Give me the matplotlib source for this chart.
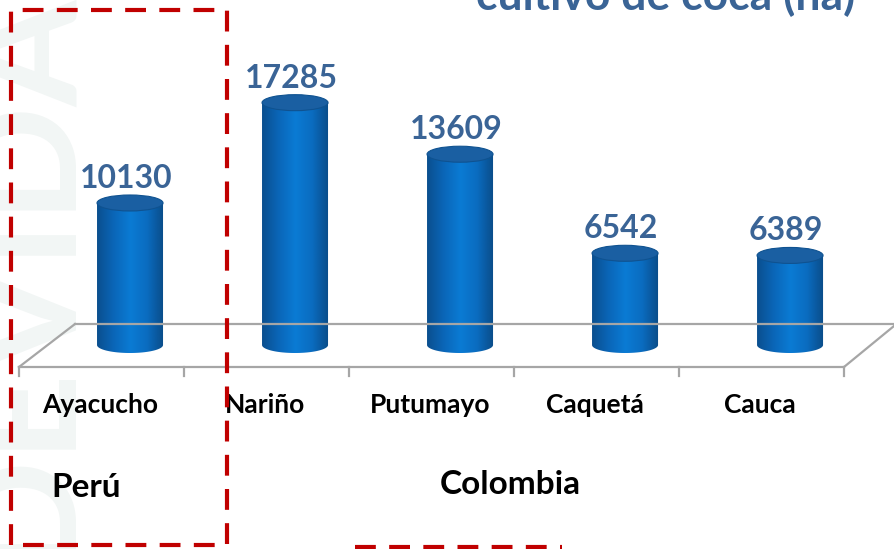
import numpy as np
import matplotlib.pyplot as plt
from matplotlib.patches import Ellipse, PathPatch
from matplotlib.path import Path
from matplotlib.colors import LinearSegmentedColormap
from matplotlib.lines import Line2D
import matplotlib.transforms as mtransforms

plt.rcParams['font.family'] = ['Lato', 'DejaVu Sans']

regiones = ['Ayacucho', 'Nariño', 'Putumayo', 'Caquetá', 'Cauca']
hectareas = [10130, 17285, 13609, 6542, 6389]
paises = ['Perú', 'Colombia']
titulo = 'cultivo de coca (ha)'

W, H = 894, 549
fig = plt.figure(figsize=(W / 100, H / 100), dpi=100)
ax = fig.add_axes([0, 0, 1, 1])
ax.set_xlim(-0.788, 4.630)
ax.set_ylim(-14551, 24609)
ax.axis('off')

azul = '#3A6496'
px_y = H / (24609 + 14551)   # pixels per hectare
bw = 0.40                   # bar width (category units)
eh = 16 / px_y              # ellipse height (data units)


def fp(x, y):
    # pixel (from top-left) -> figure fraction
    return x / W, 1 - y / H


# faint watermark on the left, behind everything
fig.text(*fp(20, 275), 'DEVIDA', rotation=90, ha='center', va='center',
         fontsize=110, fontweight='bold', color='#F2F6F5', zorder=-5)

# floor of the 3d chart
gris = '#A6A6A6'
for (x1, y1), (x2, y2) in [((75, 324), (894, 324)), ((19, 367), (75, 324)),
                           ((19, 367), (844, 367)), ((844, 367), (894, 326))]:
    (a, b), (c, d) = fp(x1, y1), fp(x2, y2)
    fig.add_artist(Line2D([a, c], [b, d], color=gris, lw=1.6, zorder=1))
for k in range(len(regiones) + 1):
    a, b = fp(19 + 165 * k, 367)
    _, d = fp(0, 376)
    fig.add_artist(Line2D([a, a], [b, d], color=gris, lw=1.6, zorder=1))

# cylinders
cmap = LinearSegmentedColormap.from_list('cil', ['#0B4F8F', '#0A66B8', '#0B7BD4',
                                                 '#0A6CC0', '#0A4C88'])
grad = np.linspace(0, 1, 200).reshape(1, -1)
t = np.linspace(np.pi, 2 * np.pi, 60)
for i, v in enumerate(hectareas):
    l, r = i - bw / 2, i + bw / 2
    pts = [(l, v), (l, 0)]
    pts += list(zip(i + bw / 2 * np.cos(t), eh / 2 * np.sin(t)))
    pts += [(r, v), (l, v)]
    body = PathPatch(Path(pts, closed=True), facecolor='none', edgecolor='none',
                     transform=ax.transData)
    ax.add_patch(body)
    im = ax.imshow(grad, extent=(l, r, -eh, v), cmap=cmap, aspect='auto',
                   zorder=3, interpolation='bilinear')
    im.set_clip_path(body)
    ax.add_patch(Ellipse((i, v), bw, eh, facecolor='#1A5FA2', edgecolor='#0F5290',
                         lw=0.8, zorder=4))
    ax.annotate(f'{v}', xy=(i, v + eh / 2), xytext=(-4, 7), textcoords='offset pixels',
                ha='center', va='baseline', color=azul, fontsize=23,
                fontweight='bold', zorder=5)

ax.set_xlim(-0.788, 4.630)
ax.set_ylim(-14551, 24609)

# category labels
tr = mtransforms.blended_transform_factory(ax.transData, fig.transFigure)
for i, nombre in enumerate(regiones):
    ax.text(i - 0.18, fp(0, 413)[1], nombre, transform=tr, ha='center',
            va='baseline', fontsize=19, fontweight='bold', color='black')

fig.text(*fp(86, 497), paises[0], ha='center', va='baseline', fontsize=24,
         fontweight='bold', color='black')
fig.text(*fp(510, 494), paises[1], ha='center', va='baseline', fontsize=24,
         fontweight='bold', color='black')

# title, cut by the top edge
fig.text(*fp(855, 10), titulo, ha='right', va='baseline', fontsize=32,
         fontweight='bold', color=azul)

# red dashed frames
rojo = '#C00000'
xs, ys = zip(*[fp(11, 545), fp(11, 10), fp(227, 10), fp(227, 545), fp(11, 545)])
fig.add_artist(Line2D(xs, ys, color=rojo, lw=3, ls=(0, (5, 3.2)), zorder=6))
xs, ys = zip(*[fp(355, 547), fp(562, 547)])
fig.add_artist(Line2D(xs, ys, color=rojo, lw=3, ls=(0, (5, 3.2)), zorder=6))

fig.savefig('out.png', dpi=100)
